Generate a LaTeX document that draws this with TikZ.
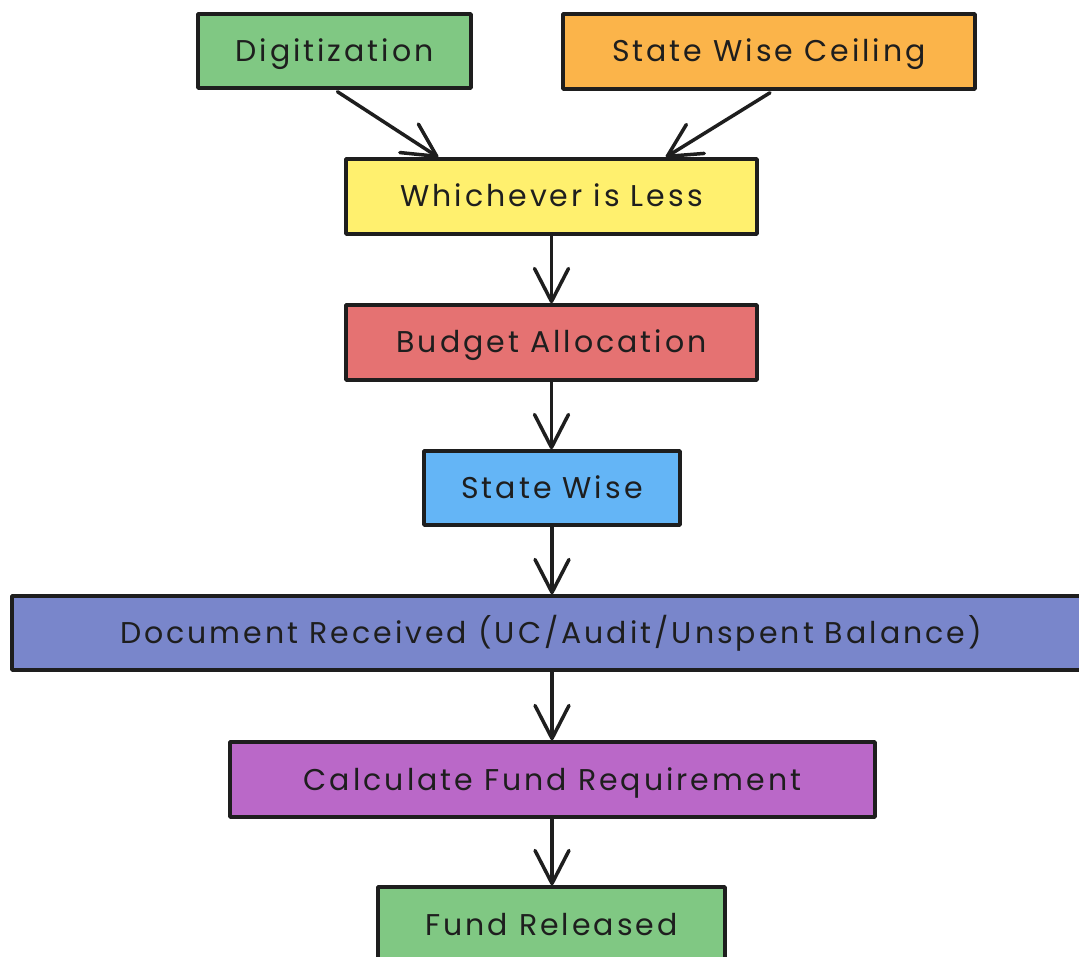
\documentclass[tikz,border=0pt]{standalone}
\usepackage{fontspec}
\setmainfont{Poppins}[LetterSpace=10]
\usetikzlibrary{arrows.meta,calc}

\definecolor{ink}{HTML}{1E1E1E}
\definecolor{cGreen}{HTML}{80C883}
\definecolor{cOrange}{HTML}{FBB44A}
\definecolor{cYellow}{HTML}{FFF06E}
\definecolor{cRed}{HTML}{E57272}
\definecolor{cBlue}{HTML}{64B5F6}
\definecolor{cIndigo}{HTML}{7986CB}
\definecolor{cPurple}{HTML}{BA68C8}

\tikzset{
  labelfont/.style={text=ink, font=\fontsize{30}{34}\selectfont,
    text height=21pt, text depth=0pt},
  flowbox/.style={draw=ink, line width=3.5pt, line join=round, rectangle,
    inner sep=0pt, labelfont, align=center},
  flowarrow/.style={draw=ink, line width=3.5pt, line cap=round,
    -{Straight Barb[length=33pt,width=34pt,line width=3.5pt,round]}}
}

\begin{document}
\begin{tikzpicture}[x=1pt,y=-1pt]
  \useasboundingbox (0,0) rectangle (1079,957);
  \clip (0,0) rectangle (1079,957);

  % boxes
  \node[flowbox, fill=cGreen, minimum width=273pt, minimum height=74pt] (dig) at (334.5,51) {Digitization};
  \node[flowbox, fill=cOrange, minimum width=412pt, minimum height=75pt] (swc) at (769,51.5) {State Wise Ceiling};
  \node[flowbox, fill=cYellow, minimum width=411pt, minimum height=75pt] (less) at (551.5,196.5) {Whichever is Less};
  \node[flowbox, fill=cRed, minimum width=411pt, minimum height=75pt] (budget) at (551.5,342.5) {Budget Allocation};
  \node[flowbox, fill=cBlue, minimum width=256pt, minimum height=74pt] (sw) at (552,488) {State Wise};
  \node[flowbox, fill=cIndigo, minimum width=1083pt, minimum height=74pt] (doc) at (553.5,633) {};
  \node[labelfont, inner sep=0pt] (doctext) at (551,633) {Document Received (UC/Audit/Unspent Balance)};
  \node[flowbox, fill=cPurple, minimum width=645pt, minimum height=75pt] (calc) at (552.5,779.5) {Calculate Fund Requirement};
  \node[flowbox, fill=cGreen, minimum width=347pt, minimum height=75pt] (fund) at (551.5,924.5) {Fund Released};

  % connectors
  \draw[flowarrow] ($(dig.south)+(3,2)$) -- ($(less.north west)+(94,0)$);
  \draw[flowarrow] ($(swc.south)+(1,2)$) -- ($(less.north east)+(-93,0)$);
  \draw[flowarrow] (less.south) -- (budget.north);
  \draw[flowarrow] (budget.south) -- (budget.south |- sw.north);
  \draw[flowarrow] (sw.south) -- (doc.north -| sw.south);
  \draw[flowarrow] (doc.south -| sw.south) -- (calc.north -| sw.south);
  \draw[flowarrow] (calc.south -| sw.south) -- (fund.north -| sw.south);
\end{tikzpicture}
\end{document}
